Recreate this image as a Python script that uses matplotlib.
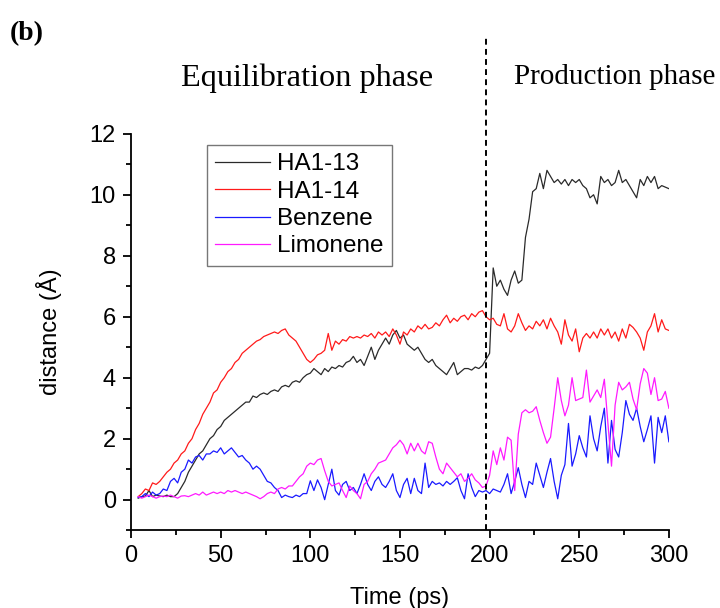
import numpy as np
import matplotlib
matplotlib.use("Agg")
import matplotlib.pyplot as plt
from matplotlib.ticker import MultipleLocator

plt.rcParams['font.family'] = ['Liberation Sans', 'DejaVu Sans']

# time axis (ps), one point every 2 ps
time_ps = np.arange(4, 302, 2)

ha1_13 = [0.05, 0.1, 0.12, 0.3, 0.1, 0.15, 0.12, 0.1, 0.15, 0.1,
          0.1, 0.2, 0.4, 0.6, 0.9, 1.1, 1.3, 1.5, 1.6, 1.8,
          2.0, 2.1, 2.3, 2.4, 2.6, 2.7, 2.8, 2.9, 3.0, 3.1,
          3.2, 3.2, 3.4, 3.35, 3.45, 3.5, 3.45, 3.55, 3.6, 3.55,
          3.7, 3.75, 3.7, 3.85, 3.9, 3.85, 4.0, 4.1, 4.15, 4.3,
          4.2, 4.1, 4.3, 4.2, 4.35, 4.3, 4.4, 4.35, 4.5, 4.55,
          4.7, 4.5, 4.6, 4.4, 4.7, 5.0, 4.6, 4.9, 5.1, 5.3,
          5.1, 5.4, 5.55, 5.3, 5.4, 5.1, 5.0, 4.9, 5.0, 4.8,
          4.6, 4.5, 4.6, 4.4, 4.3, 4.2, 4.1, 4.3, 4.5, 4.1,
          4.2, 4.3, 4.3, 4.25, 4.35, 4.3, 4.4, 4.6, 4.8, 7.6,
          7.0, 7.2, 6.9, 6.7, 7.2, 7.5, 7.1, 7.2, 8.6, 9.2,
          10.1, 10.2, 10.7, 10.2, 10.8, 10.6, 10.4, 10.5, 10.35, 10.5,
          10.3, 10.5, 10.4, 10.5, 10.3, 10.2, 9.9, 10.0, 9.7, 10.6,
          10.4, 10.5, 10.3, 10.4, 10.8, 10.4, 10.5, 10.3, 10.1, 9.9,
          10.5, 10.3, 10.6, 10.4, 10.6, 10.2, 10.3, 10.25, 10.2]

ha1_14 = [0.1, 0.2, 0.35, 0.3, 0.55, 0.5, 0.6, 0.75, 0.9, 1.0,
          1.2, 1.3, 1.5, 1.6, 1.85, 2.0, 2.3, 2.5, 2.8, 3.0,
          3.2, 3.5, 3.6, 3.85, 4.0, 4.2, 4.3, 4.5, 4.6, 4.8,
          4.9, 5.0, 5.1, 5.2, 5.25, 5.35, 5.4, 5.45, 5.5, 5.45,
          5.55, 5.6, 5.4, 5.3, 5.2, 5.0, 4.8, 4.6, 4.5, 4.6,
          4.75, 4.8, 4.9, 5.45, 4.9, 5.2, 5.1, 5.25, 5.2, 5.35,
          5.3, 5.35, 5.3, 5.4, 5.35, 5.45, 5.3, 5.5, 5.4, 5.5,
          5.35, 5.6, 5.4, 5.1, 5.5, 5.4, 5.6, 5.5, 5.7, 5.6,
          5.75, 5.6, 5.65, 5.8, 5.7, 5.9, 6.05, 5.8, 5.95, 5.85,
          6.0, 6.05, 5.9, 6.1, 6.0, 6.15, 6.2, 6.0, 5.9, 5.95,
          5.75, 5.7, 6.1, 5.6, 5.5, 5.7, 6.1, 5.8, 5.55, 5.7,
          5.6, 5.85, 5.7, 5.9, 5.6, 5.95, 5.7, 5.5, 5.1, 5.9,
          5.4, 5.2, 5.6, 4.85, 5.3, 5.45, 5.3, 5.5, 5.3, 5.6,
          5.4, 5.6, 5.3, 5.5, 5.2, 5.6, 5.3, 5.75, 5.65, 5.5,
          5.3, 4.9, 5.5, 5.7, 6.1, 5.5, 5.9, 5.6, 5.55]

benzene = [0.07, 0.1, 0.2, 0.1, 0.25, 0.15, 0.2, 0.35, 0.3, 0.6,
           0.7, 0.55, 0.9, 1.0, 1.3, 1.2, 1.4, 1.45, 1.3, 1.5,
           1.5, 1.6, 1.55, 1.7, 1.5, 1.6, 1.7, 1.55, 1.4, 1.45,
           1.3, 1.2, 1.0, 1.1, 1.0, 0.8, 0.6, 0.55, 0.4, 0.3,
           0.07, 0.15, 0.1, 0.07, 0.15, 0.1, 0.2, 0.2, 0.62, 0.3,
           0.65, 0.4, 0.0, 0.5, 1.0, 0.3, 0.15, 0.5, 0.6, 0.3,
           0.4, 0.2, 0.5, 0.85, 0.5, 0.3, 0.6, 0.75, 0.5, 0.4,
           0.6, 0.85, 0.3, 0.07, 0.5, 0.7, 0.2, 0.7, 0.3, 0.2,
           1.2, 0.4, 0.6, 0.5, 0.55, 0.45, 0.6, 0.5, 0.6, 0.72,
           0.3, 0.03, 0.85, 0.4, 0.1, 0.3, 0.25, 0.3, 0.2, 0.35,
           0.3, 0.25, 0.5, 0.85, 0.2, 0.6, 1.05, 0.5, 0.07, 0.6,
           0.5, 1.2, 0.8, 0.4, 0.9, 1.35, 0.6, 0.03, 0.8, 1.15,
           2.5, 1.1, 1.5, 2.1, 1.7, 1.4, 2.75, 2.0, 1.6, 2.4,
           3.0, 1.2, 2.6, 1.65, 1.4, 2.2, 3.25, 2.8, 2.6, 3.0,
           2.4, 1.9, 2.3, 2.75, 1.2, 2.7, 2.2, 2.75, 1.9]

limonene = [0.1, 0.05, 0.1, 0.15, 0.1, 0.05, 0.1, 0.12, 0.1, 0.15,
            0.1, 0.05, 0.12, 0.13, 0.1, 0.15, 0.2, 0.15, 0.25, 0.15,
            0.2, 0.25, 0.2, 0.25, 0.2, 0.3, 0.25, 0.3, 0.25, 0.2,
            0.25, 0.2, 0.15, 0.1, 0.03, 0.1, 0.2, 0.25, 0.2, 0.35,
            0.4, 0.35, 0.45, 0.45, 0.6, 0.75, 0.85, 1.1, 1.2, 1.15,
            1.3, 1.35, 0.95, 0.6, 0.45, 0.5, 0.55, 0.3, 0.07, 0.45,
            0.3, 0.2, 0.03, 0.5, 0.6, 0.85, 1.0, 1.2, 1.25, 1.3,
            1.5, 1.7, 1.8, 1.95, 1.8, 1.5, 1.85, 1.6, 1.85, 1.6,
            1.5, 1.9, 1.85, 1.4, 1.0, 0.85, 1.2, 1.05, 0.9, 0.75,
            0.85, 0.6, 0.7, 0.85, 0.65, 0.55, 0.4, 0.45, 0.8, 1.6,
            1.15, 1.7, 1.3, 2.05, 1.95, 0.3, 2.15, 2.85, 2.95, 2.85,
            2.9, 3.05, 2.6, 2.2, 1.85, 2.05, 3.0, 4.0, 3.25, 2.75,
            3.1, 4.0, 3.25, 3.3, 3.35, 4.25, 3.2, 3.4, 3.6, 3.35,
            3.95, 2.5, 1.1, 3.1, 3.85, 3.6, 3.7, 3.85, 3.3, 2.95,
            3.8, 4.3, 4.15, 3.45, 4.0, 3.25, 3.3, 3.55, 3.0]

series_names = ['HA1-13', 'HA1-14', 'Benzene', 'Limonene']
series_colors = ['#2a2a2a', '#ff1a1a', '#1a1aff', '#ff1aff']
phase_boundary = 198  # ps

fig = plt.figure(figsize=(7.2, 6.08), dpi=100)
ax = fig.add_axes([0.182, 0.128, 0.747, 0.652])

for vals, name, col in zip([ha1_13, ha1_14, benzene, limonene], series_names, series_colors):
    ax.plot(time_ps, vals, color=col, lw=0.9, label=name)

ax.axvline(phase_boundary, ymin=0, ymax=1.25, color='k', lw=1.4,
           linestyle=(0, (3, 2.2)), clip_on=False)

ax.set_xlim(0, 300)
ax.set_ylim(-1, 12)
ax.xaxis.set_major_locator(MultipleLocator(50))
ax.xaxis.set_minor_locator(MultipleLocator(25))
ax.yaxis.set_major_locator(MultipleLocator(2))
ax.yaxis.set_minor_locator(MultipleLocator(1))
ax.tick_params(which='major', direction='out', length=6, width=1.3, labelsize=17, pad=5)
ax.tick_params(which='minor', direction='out', length=3.5, width=1.3)
for side in ['top', 'right']:
    ax.spines[side].set_visible(False)
for side in ['left', 'bottom']:
    ax.spines[side].set_linewidth(1.3)

ax.set_xlabel('Time (ps)', fontsize=17, labelpad=14)
ax.set_ylabel('distance (Å)', fontsize=17, labelpad=20)

leg = ax.legend(loc='upper left', bbox_to_anchor=(0.141, 0.972), borderaxespad=0,
                fontsize=17.5, frameon=True, fancybox=False, handlelength=2.25,
                handletextpad=0.3, labelspacing=0.22, borderpad=0.35)
leg.get_frame().set_edgecolor('#555555')
leg.get_frame().set_linewidth(1.0)

fig.text(10 / 720, 1 - 40 / 608, '(b)', fontsize=20, fontweight='bold',
         family='Liberation Serif')
fig.text(181 / 720, 1 - 86 / 608, 'Equilibration phase', fontsize=23.3,
         family='Liberation Serif')
fig.text(514 / 720, 1 - 84 / 608, 'Production phase', fontsize=21,
         family='Liberation Serif')

fig.savefig('out.png', dpi=100)
